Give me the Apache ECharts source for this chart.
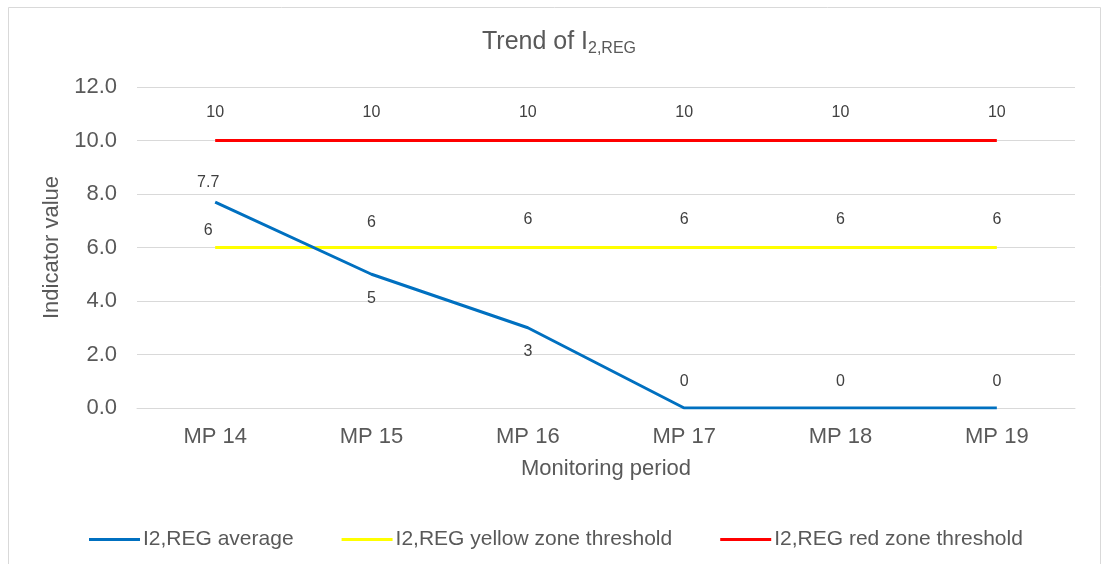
<!DOCTYPE html>
<html>
<head>
<meta charset="utf-8">
<title>Trend of I2,REG</title>
<script src="https://cdn.jsdelivr.net/npm/echarts@6/dist/echarts.min.js"></script>
<style>
  html, body { margin: 0; padding: 0; background: #ffffff; }
  #chart { width: 1102px; height: 564px; }
</style>
</head>
<body>
<div id="chart"></div>
<script>
// Monitoring periods and indicator series
const periods = ['MP 14', 'MP 15', 'MP 16', 'MP 17', 'MP 18', 'MP 19'];
const averageValues = [7.7, 5, 3, 0, 0, 0];
const yellowThreshold = [6, 6, 6, 6, 6, 6];
const redThreshold = [10, 10, 10, 10, 10, 10];
const yTicks = { min: 0, max: 12, interval: 2 };

// Label placement relative to each point (dx, dy), in pixels
const averageLabelOffsets = [[-7, -19], [0, 24], [0, 24], [0, -26], [0, -26], [0, -26]];
const yellowLabelOffsets = [[-7, -17], [0, -25], [0, -28], [0, -28], [0, -28], [0, -28]];
const redLabelOffsets = [[0, -28], [0, -28], [0, -28], [0, -28], [0, -28], [0, -28]];

const FONT = '"Liberation Sans", Arial, sans-serif';
const TEXT = '#595959';
const LABEL = '#404040';

function withLabels(values, offsets) {
  return values.map((v, i) => ({
    value: v,
    label: { offset: offsets[i] }
  }));
}

function lineSeries(name, values, offsets, color, z) {
  return {
    name: name,
    type: 'line',
    data: withLabels(values, offsets),
    // invisible markers so the value labels have an anchor
    symbol: 'circle',
    symbolSize: 0.1,
    showSymbol: true,
    z: z,
    lineStyle: { color: color, width: 3, join: 'round', cap: 'butt' },
    itemStyle: { color: color },
    label: {
      show: true,
      position: 'inside',
      color: LABEL,
      fontFamily: FONT,
      fontSize: 16
    },
    emphasis: { disabled: true },
    animation: false
  };
}

const chart = echarts.init(document.getElementById('chart'), null, { renderer: 'canvas' });

chart.setOption({
  backgroundColor: '#ffffff',
  animation: false,
  graphic: [{
    type: 'rect',
    shape: { x: 8.5, y: 7.5, width: 1092, height: 620 },
    style: { fill: 'none', stroke: '#d9d9d9', lineWidth: 1 },
    silent: true,
    z: -10
  }],
  title: {
    text: 'Trend of I{sub|2,REG}',
    left: 554,
    textAlign: 'center',
    top: 22,
    textStyle: {
      fontFamily: FONT,
      fontSize: 25,
      fontWeight: 'normal',
      color: TEXT,
      rich: {
        sub: {
          fontFamily: FONT,
          fontSize: 16,
          color: TEXT,
          verticalAlign: 'bottom',
          padding: [14, 0, 0, 0]
        }
      }
    }
  },
  grid: { left: 137, right: 27, top: 87, bottom: 156 },
  legend: {
    bottom: 9,
    left: 84,
    icon: 'rect',
    itemWidth: 51,
    itemHeight: 3,
    itemGap: 48,
    textStyle: { fontFamily: FONT, fontSize: 21, color: TEXT, padding: [0, 0, 0, -2] },
    data: ['I2,REG average', 'I2,REG yellow zone threshold', 'I2,REG red zone threshold']
  },
  xAxis: {
    type: 'category',
    data: periods,
    boundaryGap: true,
    name: 'Monitoring period',
    nameLocation: 'middle',
    nameGap: 50,
    nameTextStyle: { fontFamily: FONT, fontSize: 22, color: TEXT },
    axisLine: { show: true, lineStyle: { color: '#d9d9d9', width: 1 } },
    axisTick: { show: false },
    axisLabel: { fontFamily: FONT, fontSize: 22, color: TEXT, margin: 18 }
  },
  yAxis: {
    type: 'value',
    min: yTicks.min,
    max: yTicks.max,
    interval: yTicks.interval,
    name: 'Indicator value',
    nameLocation: 'middle',
    nameGap: 72,
    nameRotate: 90,
    nameTextStyle: { fontFamily: FONT, fontSize: 22, color: TEXT },
    axisLine: { show: false },
    axisTick: { show: false },
    axisLabel: {
      fontFamily: FONT, fontSize: 22, color: TEXT, margin: 20,
      formatter: v => v.toFixed(1)
    },
    splitLine: { lineStyle: { color: '#d9d9d9', width: 1 } }
  },
  series: [
    lineSeries('I2,REG average', averageValues, averageLabelOffsets, '#0070C0', 4),
    lineSeries('I2,REG yellow zone threshold', yellowThreshold, yellowLabelOffsets, '#FFFF00', 3),
    lineSeries('I2,REG red zone threshold', redThreshold, redLabelOffsets, '#FF0000', 3)
  ]
});
</script>
</body>
</html>
